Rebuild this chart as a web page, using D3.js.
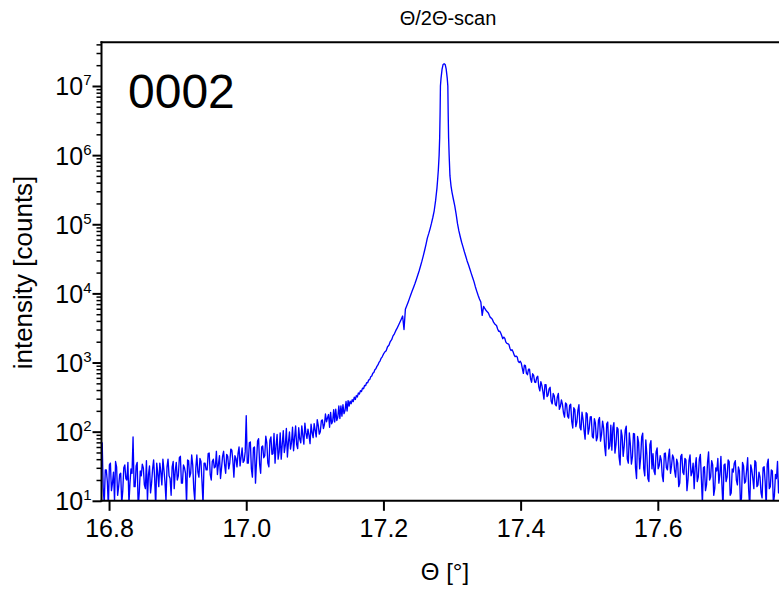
<!DOCTYPE html>
<html><head><meta charset="utf-8">
<script src="https://cdn.jsdelivr.net/npm/d3@7"></script>
<style>
html,body{margin:0;padding:0;background:#fff;}
svg{display:block;font-family:"Liberation Sans",Arial,Helvetica,sans-serif;}
</style></head><body>
<svg id="chart" width="779" height="590"></svg>
<script>
// ---- data ----
// left tail of the scan (theta in degrees, counts)
const leftTheta = [
16.7900,16.7915,16.7930,16.7945,16.7960,16.7975,16.7990,16.8005,16.8020,16.8035,
16.8050,16.8065,16.8080,16.8095,16.8110,16.8125,16.8140,16.8155,16.8170,16.8185,
16.8200,16.8215,16.8230,16.8245,16.8260,16.8275,16.8290,16.8305,16.8320,16.8335,
16.8350,16.8365,16.8380,16.8395,16.8410,16.8425,16.8440,16.8455,16.8470,16.8485,
16.8500,16.8515,16.8530,16.8545,16.8560,16.8575,16.8590,16.8605,16.8620,16.8635,
16.8650,16.8665,16.8680,16.8695,16.8710,16.8725,16.8740,16.8755,16.8770,16.8785,
16.8800,16.8815,16.8830,16.8845,16.8860,16.8875,16.8890,16.8905,16.8920,16.8935,
16.8950,16.8965,16.8980,16.8995,16.9010,16.9025,16.9040,16.9055,16.9070,16.9085,
16.9100,16.9115,16.9130,16.9145,16.9160,16.9175,16.9190,16.9205,16.9220,16.9235,
16.9250,16.9265,16.9280,16.9295,16.9310,16.9325,16.9340,16.9355,16.9370,16.9385,
16.9400,16.9415,16.9430,16.9445,16.9460,16.9475,16.9490,16.9505,16.9520,16.9535,
16.9550,16.9565,16.9580,16.9595,16.9610,16.9625,16.9640,16.9655,16.9670,16.9685,
16.9700,16.9715,16.9730,16.9745,16.9760,16.9775,16.9790,16.9805,16.9820,16.9835,
16.9850,16.9865,16.9880,16.9895,16.9910,16.9925,16.9940,16.9955,16.9970,16.9985,
17.0000,17.0015,17.0030,17.0045,17.0060,17.0075,17.0090,17.0105,17.0120,17.0135,
17.0150,17.0165,17.0180,17.0195,17.0210,17.0225,17.0240,17.0255,17.0270,17.0285,
17.0300,17.0315,17.0330,17.0345,17.0360,17.0375,17.0390,17.0405,17.0420,17.0435,
17.0450,17.0465,17.0480,17.0495,17.0510,17.0525,17.0540,17.0555,17.0570,17.0585,
17.0600,17.0615,17.0630,17.0645,17.0660,17.0675,17.0690,17.0705,17.0720,17.0735,
17.0750,17.0765,17.0780,17.0795,17.0810,17.0825,17.0840,17.0855,17.0870,17.0885,
17.0900,17.0915,17.0930,17.0945,17.0960,17.0975,17.0990,17.1005,17.1020,17.1035,
17.1050,17.1065,17.1080,17.1095,17.1110,17.1125,17.1140,17.1155,17.1170,17.1185,
17.1200,17.1215,17.1230,17.1245,17.1260,17.1275,17.1290,17.1305,17.1320,17.1335,
17.1350,17.1365,17.1380,17.1395,17.1410,17.1425,17.1440,17.1455,17.1470,17.1485,
17.1500,17.1515,17.1530,17.1545,17.1560,17.1575,17.1590,17.1605,17.1620,17.1635,
17.1650,17.1665,17.1680,17.1695,17.1710,17.1725,17.1740,17.1755,17.1770,17.1785,
17.1800,17.1815,17.1830,17.1845,17.1860,17.1875,17.1890,17.1905,17.1920,17.1935,
17.1950,17.1965,17.1980];
const leftCounts = [
70,15,9,28,28,19,8,33,35,14,
18,26,10,37,31,12,16,24,25,9,
14,30,33,21,20,36,9,18,29,25,
84,16,16,32,36,8,13,27,23,34,
30,17,15,38,10,24,32,13,18,29,
39,21,8,35,25,16,35,26,17,40,
28,19,10,31,40,23,21,12,31,37,
15,27,36,20,23,42,44,18,18,33,
30,25,9,39,38,22,25,46,33,15,
10,30,46,26,22,41,37,19,9,35,
35,28,28,48,49,24,20,37,40,30,
31,52,24,34,45,21,30,44,52,33,
25,47,44,29,35,56,54,38,22,45,
41,31,48,60,32,43,58,36,38,51,
170,35,35,69,71,29,22,58,60,18,
37,73,79,34,25,60,62,42,45,86,
69,35,31,75,84,47,48,94,35,63,
91,40,51,96,40,66,103,50,64,111,
43,70,99,56,70,116,53,82,121,65,
57,114,78,69,121,88,66,133,96,80,
109,89,67,128,97,82,131,105,84,149,
123,92,100,144,148,111,127,180,139,159,
177,116,190,130,141,208,138,211,145,163,
235,155,235,168,245,182,202,273,199,281,
235,276,254,290,272,316,292,333,318,362,
350,392,381,426,418,466,462,512,510,560,
566,622,638,698,720,784,810,880,922,1005,
1050,1145,1200];

// central part of the scan around the 0002 reflection
const peakTheta = [
17.200,17.202,17.204,17.206,17.208,17.210,17.212,17.214,17.216,17.218,
17.220,17.222,17.224,17.226,17.228,17.230,17.232,17.234,17.236,17.238,
17.240,17.242,17.244,17.246,17.248,17.250,17.252,17.254,17.256,17.258,
17.260,17.262,17.264,17.266,17.268,17.270,17.272,17.274,17.276,17.278,
17.2790,17.2800,17.2812,17.2820,17.2826,17.2831,17.2840,17.2855,17.2870,17.2885,
17.2900,17.2915,17.2930,17.2939,17.2944,17.2950,17.2958,17.2970,17.2985,
17.300,17.302,17.304,17.306,17.308,17.310,17.312,17.314,17.316,17.318,
17.320,17.322,17.324,17.326,17.328,17.330,17.332,17.334,17.336,17.338,
17.340,17.342,17.344,17.346,17.348,17.350];
const peakCounts = [
1320,1420,1480,1690,1780,2010,2140,2430,2600,2890,
3145,3460,3820,4235,4710,3000,5880,6600,7460,8470,
9660,10900,12300,13900,15900,18300,21100,24700,29000,34600,
41700,50800,63000,73100,85900,102800,125300,156700,217500,330000,
440000,600000,1000000,1800000,4000000,10000000,13000000,17500000,20500000,21000000,
20500000,17500000,13000000,10000000,4000000,1800000,1000000,500000,360000,
290000,230000,185000,140000,102000,80000,66000,55000,47000,40000,
34500,29500,26000,22500,19500,17000,14800,12500,10800,9400,
8300,7500,4800,6500,6000,5600];

// right tail of the scan
const rightTheta = [
17.3530,17.3545,17.3560,17.3575,17.3590,17.3605,17.3620,17.3635,17.3650,17.3665,
17.3680,17.3695,17.3710,17.3725,17.3740,17.3755,17.3770,17.3785,17.3800,17.3815,
17.3830,17.3845,17.3860,17.3875,17.3890,17.3905,17.3920,17.3935,17.3950,17.3965,
17.3980,17.3995,17.4010,17.4025,17.4040,17.4055,17.4070,17.4085,17.4100,17.4115,
17.4130,17.4145,17.4160,17.4175,17.4190,17.4205,17.4220,17.4235,17.4250,17.4265,
17.4280,17.4295,17.4310,17.4325,17.4340,17.4355,17.4370,17.4385,17.4400,17.4415,
17.4430,17.4445,17.4460,17.4475,17.4490,17.4505,17.4520,17.4535,17.4550,17.4565,
17.4580,17.4595,17.4610,17.4625,17.4640,17.4655,17.4670,17.4685,17.4700,17.4715,
17.4730,17.4745,17.4760,17.4775,17.4790,17.4805,17.4820,17.4835,17.4850,17.4865,
17.4880,17.4895,17.4910,17.4925,17.4940,17.4955,17.4970,17.4985,17.5000,17.5015,
17.5030,17.5045,17.5060,17.5075,17.5090,17.5105,17.5120,17.5135,17.5150,17.5165,
17.5180,17.5195,17.5210,17.5225,17.5240,17.5255,17.5270,17.5285,17.5300,17.5315,
17.5330,17.5345,17.5360,17.5375,17.5390,17.5405,17.5420,17.5435,17.5450,17.5465,
17.5480,17.5495,17.5510,17.5525,17.5540,17.5555,17.5570,17.5585,17.5600,17.5615,
17.5630,17.5645,17.5660,17.5675,17.5690,17.5705,17.5720,17.5735,17.5750,17.5765,
17.5780,17.5795,17.5810,17.5825,17.5840,17.5855,17.5870,17.5885,17.5900,17.5915,
17.5930,17.5945,17.5960,17.5975,17.5990,17.6005,17.6020,17.6035,17.6050,17.6065,
17.6080,17.6095,17.6110,17.6125,17.6140,17.6155,17.6170,17.6185,17.6200,17.6215,
17.6230,17.6245,17.6260,17.6275,17.6290,17.6305,17.6320,17.6335,17.6350,17.6365,
17.6380,17.6395,17.6410,17.6425,17.6440,17.6455,17.6470,17.6485,17.6500,17.6515,
17.6530,17.6545,17.6560,17.6575,17.6590,17.6605,17.6620,17.6635,17.6650,17.6665,
17.6680,17.6695,17.6710,17.6725,17.6740,17.6755,17.6770,17.6785,17.6800,17.6815,
17.6830,17.6845,17.6860,17.6875,17.6890,17.6905,17.6920,17.6935,17.6950,17.6965,
17.6980,17.6995,17.7010,17.7025,17.7040,17.7055,17.7070,17.7085,17.7100,17.7115,
17.7130,17.7145,17.7160,17.7175,17.7190,17.7205,17.7220,17.7235,17.7250,17.7265,
17.7280,17.7295,17.7310,17.7325,17.7340,17.7355,17.7370,17.7385,17.7400,17.7415,
17.7430,17.7445,17.7460,17.7475,17.7490,17.7505,17.7520,17.7535,17.7550,17.7565,
17.7580,17.7595,17.7610,17.7625,17.7640,17.7655,17.7670,17.7685,17.7700,17.7715,
17.7730,17.7745,17.7760,17.7775,17.7790];
const rightCounts = [
5220,4790,4460,4380,4160,3840,3650,3530,3400,3060,
2830,2850,2670,2440,2210,2330,2230,1970,1890,1870,
1820,1600,1490,1530,1430,1290,1220,1240,1205,1040,
1000,1046,975,826,698,915,902,697,667,800,
799,583,519,688,651,521,515,607,633,445,
389,529,467,380,296,480,479,322,339,416,
438,278,252,357,330,248,236,318,358,210,
233,288,248,186,162,260,250,168,157,240,
250,141,113,222,209,118,137,204,245,115,
106,191,151,104,78,188,180,92,111,163,
165,85,81,154,134,74,83,146,160,73,
92,142,113,61,45,130,138,56,62,124,
54,114,135,49,65,115,109,43,33,106,
86,44,62,105,120,40,35,96,65,34,
43,94,93,30,21,85,70,29,42,84,
95,29,23,76,47,21,19,65,74,29,
48,27,24,51,58,29,32,45,39,23,
19,48,49,30,28,43,56,25,32,46,
42,27,22,40,35,16,18,44,47,26,
24,41,39,14,20,38,46,23,26,35,
15,31,42,19,22,40,47,21,9,30,
31,14,17,36,51,20,22,38,33,12,
15,30,27,41,18,24,44,17,8,33,
34,19,22,39,37,12,13,29,26,35,
38,20,17,31,27,9,11,36,32,18,
19,28,42,14,8,33,28,21,15,38,
36,16,17,26,22,13,11,30,31,19,
8,34,40,15,16,28,27,9,12,24,
21,37,13,20,35];

const xTicks = [16.8, 17.0, 17.2, 17.4, 17.6];
const yDecades = [1, 2, 3, 4, 5, 6, 7];
const yMinorSteps = [2, 3, 4, 5, 6, 7, 8, 9];
const titleText = "Θ/2Θ-scan";
const reflectionText = "0002";
const xLabelText = "Θ [°]";
const yLabelText = "intensity [counts]";

// ---- layout ----
const W = 779, H = 590;
const L = 101.5, T = 42.3, B = 500.8, R = 795;
const svg = d3.select("#chart");
svg.append("rect").attr("width", W).attr("height", H).attr("fill", "#fff");

const x = d3.scaleLinear().domain([16.789, 17.8]).range([L, R]);
const y = d3.scaleLog().domain([10, Math.pow(10, 7.632)]).range([B, T]);

const scan = [];
leftTheta.forEach((t, i) => scan.push({t, c: leftCounts[i]}));
peakTheta.forEach((t, i) => scan.push({t, c: peakCounts[i]}));
rightTheta.forEach((t, i) => scan.push({t, c: rightCounts[i]}));

svg.append("clipPath").attr("id", "plotclip")
  .append("rect").attr("x", L).attr("y", T).attr("width", R - L + 10).attr("height", B - T);

const line = d3.line().x(d => x(d.t)).y(d => y(Math.max(d.c, 1)));
svg.append("path").datum(scan)
  .attr("clip-path", "url(#plotclip)")
  .attr("d", line)
  .attr("fill", "none")
  .attr("stroke", "#0000ff")
  .attr("stroke-width", 1.35)
  .attr("stroke-linejoin", "round");

// minor y ticks
const yMax = y.domain()[1];
const minorVals = [];
yDecades.forEach(d => yMinorSteps.forEach(m => { const v = m * Math.pow(10, d); if (v <= yMax) minorVals.push(v); }));
const gMinor = svg.append("g").attr("transform", `translate(${L},0)`)
  .call(d3.axisLeft(y).tickValues(minorVals).tickSize(5).tickFormat(""));
gMinor.select(".domain").remove();
gMinor.selectAll("line").attr("stroke", "#000").attr("stroke-width", 1.5);

// major y ticks
const gMajor = svg.append("g").attr("transform", `translate(${L},0)`)
  .call(d3.axisLeft(y).tickValues(yDecades.map(d => Math.pow(10, d))).tickSize(9).tickFormat(""));
gMajor.select(".domain").remove();
gMajor.selectAll("line").attr("stroke", "#000").attr("stroke-width", 2);
gMajor.selectAll(".tick").each(function(v) {
  const txt = d3.select(this).append("text")
    .attr("x", -10).attr("y", 9).attr("text-anchor", "end")
    .attr("fill", "#000").style("font-size", "25px");
  txt.append("tspan").text("10");
  txt.append("tspan").attr("dy", -10).style("font-size", "15px").text(Math.round(Math.log10(v)));
});

// x axis
const gx = svg.append("g").attr("transform", `translate(0,${B})`)
  .call(d3.axisBottom(x).tickValues(xTicks).tickSize(10).tickPadding(8).tickFormat(d3.format(".1f")));
gx.select(".domain").remove();
gx.selectAll("line").attr("stroke", "#000").attr("stroke-width", 2);
gx.selectAll("text").attr("fill", "#000").style("font-size", "25px").style("font-family", "'Liberation Sans',Arial,sans-serif");

// frame lines
svg.append("line").attr("x1", L).attr("x2", L).attr("y1", T - 1).attr("y2", B + 1).attr("stroke", "#000").attr("stroke-width", 2);
svg.append("line").attr("x1", L - 1).attr("x2", W + 5).attr("y1", B).attr("y2", B).attr("stroke", "#000").attr("stroke-width", 2);
svg.append("line").attr("x1", L - 1).attr("x2", W + 5).attr("y1", T).attr("y2", T).attr("stroke", "#000").attr("stroke-width", 2);

// texts
svg.append("text").attr("x", 448).attr("y", 25).attr("text-anchor", "middle")
  .style("font-size", "20px").attr("fill", "#000").text(titleText);
svg.append("text").attr("x", 128).attr("y", 108)
  .style("font-size", "48px").attr("fill", "#000").text(reflectionText);
svg.append("text").attr("x", 445).attr("y", 580).attr("text-anchor", "middle")
  .style("font-size", "24px").attr("fill", "#000").text(xLabelText);
svg.append("text").attr("transform", "translate(32,272.5) rotate(-90)").attr("text-anchor", "middle")
  .style("font-size", "26px").attr("fill", "#000").text(yLabelText);
</script>
</body></html>
